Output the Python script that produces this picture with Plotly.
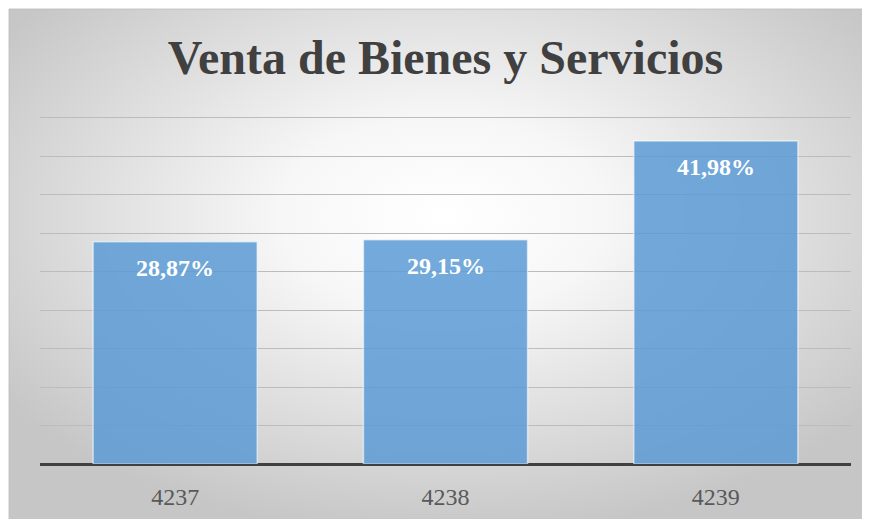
import plotly.graph_objects as go
import urllib.parse

categories = ["4237", "4238", "4239"]
values = [28.87, 29.15, 41.98]
labels = ["28,87%", "29,15%", "41,98%"]
title_text = "Venta de Bienes y Servicios"

W, H = 870, 519
ml, mr, mt, mb = 32, 27, 102, 63
pw, ph = W - ml - mr, H - mt - mb

svg = (
    '<svg xmlns="http://www.w3.org/2000/svg" width="869" height="518" viewBox="0 0 869 518" preserveAspectRatio="none">'
    '<defs><radialGradient id="g" cx="0.5" cy="0.4" r="0.62" gradientUnits="objectBoundingBox">'
    '<stop offset="0" stop-color="#ffffff"/><stop offset="0.3" stop-color="#f7f7f7"/>'
    '<stop offset="1" stop-color="#c6c6c6"/></radialGradient></defs>'
    '<rect x="0" y="0" width="869" height="518" fill="url(#g)"/>'
    '<rect x="0.5" y="0.5" width="869" height="518" fill="none" stroke="#bdbdbd" stroke-width="1"/>'
    '</svg>'
)
bg_src = "data:image/svg+xml;charset=utf-8," + urllib.parse.quote(svg)

fig = go.Figure()
fig.add_trace(go.Bar(
    x=categories, y=values,
    marker=dict(color="rgba(91,155,213,0.85)",
                line=dict(color="rgba(255,255,255,0.55)", width=1.5)),
    hoverinfo="skip",
))

# category axis: annotation x given as category index
for i, (v, t) in enumerate(zip(values, labels)):
    fig.add_annotation(x=i, y=v, text="<b>" + t + "</b>", showarrow=False, yanchor="middle",
                       yshift=-26,
                       font=dict(family="Liberation Serif", size=24, color="white"))

fig.add_layout_image(dict(
    source=bg_src, xref="paper", yref="paper",
    x=(0.5 - ml) / pw, y=(H - mb - 0.5) / ph,
    sizex=(W - 1) / pw, sizey=(H - 1) / ph,
    xanchor="left", yanchor="top", sizing="stretch", layer="below",
))

fig.update_layout(
    width=W, height=H,
    margin=dict(l=ml, r=mr, t=mt, b=mb),
    paper_bgcolor="white", plot_bgcolor="rgba(0,0,0,0)",
    bargap=0.393, showlegend=False,
    title=dict(text="<b>" + title_text + "</b>", x=0.5, xref="paper", xanchor="center",
               y=(H - 49) / H, yanchor="middle",
               font=dict(family="Liberation Serif", size=48, color="#404040")),
    xaxis=dict(type="category", categoryorder="array", categoryarray=categories,
               range=[-0.5, len(categories) - 0.5],
               showgrid=False, showline=False, zeroline=False,
               ticks="outside", ticklen=11, tickcolor="rgba(0,0,0,0)",
               tickfont=dict(family="Liberation Serif", size=24, color="#595959")),
    yaxis=dict(range=[0, 46], tick0=0, dtick=5, showticklabels=False, showgrid=True,
               gridcolor="#bcbcbc", gridwidth=1.2, zeroline=True,
               zerolinecolor="#404040", zerolinewidth=3, showline=False, fixedrange=True),
)

fig.write_html("out.html")
